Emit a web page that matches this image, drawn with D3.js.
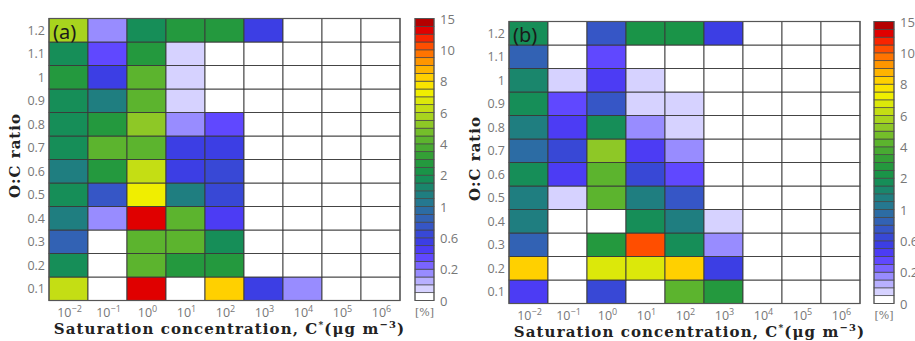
<!DOCTYPE html>
<html>
<head>
<meta charset="utf-8">
<script src="https://cdn.jsdelivr.net/npm/d3@7/dist/d3.min.js"></script>
<style>
  body { margin: 0; background: #fff; }
  svg { display: block; }
</style>
</head>
<body>
<div id="chart"></div>
<script>
// column categories: exponent of C* (10^n)
const xExponents = [-2, -1, 0, 1, 2, 3, 4, 5, 6];
// O:C ratio rows
const ocRows = [0.1, 0.2, 0.3, 0.4, 0.5, 0.6, 0.7, 0.8, 0.9, 1.0, 1.1, 1.2];
const ocLabels = ['0.1', '0.2', '0.3', '0.4', '0.5', '0.6', '0.7', '0.8', '0.9', '1', '1.1', '1.2'];

// values in %, one row per O:C (0.1 first), one column per C*
const panelA = [
  [6.2, 0, 13, 0, 8.0, 0.55, 0.17, 0, 0],
  [1.9, 0, 4.2, 2.7, 2.7, 0, 0, 0, 0],
  [0.85, 0, 4.2, 4.2, 1.9, 0, 0, 0, 0],
  [1.3, 0.17, 13, 4.2, 0.45, 0, 0, 0, 0],
  [1.8, 0.75, 7.2, 1.4, 0.6, 0, 0, 0, 0],
  [1.4, 2.9, 6.2, 0.55, 0.65, 0, 0, 0, 0],
  [1.9, 4.2, 4.4, 0.5, 0.5, 0, 0, 0, 0],
  [1.9, 2.7, 5.2, 0.17, 0.35, 0, 0, 0, 0],
  [1.9, 1.4, 4.4, 0.08, 0, 0, 0, 0, 0],
  [2.6, 0.55, 4.2, 0.08, 0, 0, 0, 0, 0],
  [1.8, 0.35, 2.7, 0.08, 0, 0, 0, 0, 0],
  [5.7, 0.17, 1.9, 2.8, 2.8, 0.55, 0, 0, 0]
];
const panelB = [
  [0.45, 0, 0.6, 0, 4.4, 2.7, 0, 0, 0],
  [8.2, 0, 6.8, 6.8, 8.2, 0.5, 0, 0, 0],
  [0.85, 0, 2.7, 10.5, 1.8, 0.17, 0, 0, 0],
  [1.4, 0, 0, 1.9, 1.4, 0.08, 0, 0, 0],
  [1.4, 0.08, 4.4, 1.4, 0.75, 0, 0, 0, 0],
  [1.9, 0.45, 4.4, 0.65, 0.35, 0, 0, 0, 0],
  [0.95, 0.65, 5.2, 0.45, 0.17, 0, 0, 0, 0],
  [1.4, 0.45, 1.9, 0.17, 0.08, 0, 0, 0, 0],
  [1.9, 0.35, 0.75, 0.08, 0.08, 0, 0, 0, 0],
  [1.6, 0.08, 0.45, 0.08, 0, 0, 0, 0, 0],
  [0.85, 0, 0.35, 0, 0, 0, 0, 0, 0],
  [1.9, 0, 0.75, 2.2, 2.2, 0.55, 0, 0, 0]
];

// colour levels (upper bounds of each band except the last)
const levelBounds = [0.05, 0.1, 0.15, 0.2, 0.3, 0.4, 0.5, 0.6, 0.7, 0.8, 0.9, 1,
  1.25, 1.5, 1.75, 2, 2.5, 3, 3.5, 4, 4.5, 5, 5.5, 6, 6.5, 7, 7.5, 8, 8.5, 9, 9.5, 10,
  11.25, 12.5, 13.75];
const levelColors = ['#ffffff', '#d6d2ff', '#b8b0ff', '#988cff', '#7a64ff', '#6048ff',
  '#4c3cf4', '#3c3ee4', '#3848d6', '#3656c6', '#3262b4', '#2c6ca4', '#257890', '#1f7e80',
  '#1a866c', '#168e58', '#1a9448', '#24993e', '#34a036', '#48aa32', '#5cb42e', '#74be2a',
  '#8ec826', '#a8d41e', '#c4de14', '#dce80a', '#f0ee00', '#fae400', '#ffd000', '#ffb400',
  '#ff9600', '#ff7400', '#ff4e00', '#f82400', '#e00000', '#b40000'];
const cbTickValues = ['0', '0.2', '0.6', '1', '2', '4', '6', '8', '10', '15'];
const cbTickIdx = [0, 4, 8, 12, 16, 20, 24, 28, 32, 36];

const W = 915, H = 341;
const svg = d3.select('#chart').append('svg').attr('width', W).attr('height', H);

const color = d3.scaleThreshold().domain(levelBounds).range(levelColors);

const panels = [
  { data: panelA, tag: '(a)', left: 49, top: 18.5, width: 351, height: 282, cbx: 415, cbw: 19, yLabX: 45, yTitleX: 20 },
  { data: panelB, tag: '(b)', left: 509, top: 21.5, width: 351, height: 282, cbx: 874, cbw: 20, yLabX: 505, yTitleX: 480 }
];

panels.forEach(p => {
  const g = svg.append('g').attr('transform', `translate(${p.left},${p.top})`);

  const x = d3.scaleBand().domain(xExponents).range([0, p.width]);
  const y = d3.scaleBand().domain(ocRows).range([p.height, 0]);

  // cells
  const cells = [];
  p.data.forEach((row, i) => row.forEach((v, j) => cells.push({ r: ocRows[i], c: xExponents[j], v })));
  g.selectAll('rect.cell').data(cells).join('rect')
    .attr('class', 'cell')
    .attr('x', d => x(d.c)).attr('y', d => y(d.r))
    .attr('width', x.bandwidth()).attr('height', y.bandwidth())
    .attr('fill', d => color(d.v))
    .attr('stroke', '#3a3a3a').attr('stroke-width', 0.9);

  // outer frame
  g.append('rect').attr('width', p.width).attr('height', p.height)
    .attr('fill', 'none').attr('stroke', '#555').attr('stroke-width', 1.2);

  // panel tag
  g.append('text').attr('x', 4).attr('y', 20)
    .attr('font-family', 'Noto Sans, sans-serif').attr('font-size', 20)
    .attr('fill', '#1a1a1a').text(p.tag);

  // y tick labels
  svg.append('g').selectAll('text').data(ocRows).join('text')
    .attr('x', p.yLabX).attr('y', d => p.top + y(d) + y.bandwidth() / 2 + 4.5)
    .attr('text-anchor', 'end')
    .attr('font-family', 'Open Sans, sans-serif').attr('font-size', 12.5)
    .attr('fill', '#777')
    .text((d, i) => ocLabels[i]);

  // x tick labels 10^n
  const xl = svg.append('g').selectAll('text').data(xExponents).join('text')
    .attr('x', d => p.left + x(d) + x.bandwidth() / 2 + 1)
    .attr('y', p.top + p.height + 16)
    .attr('text-anchor', 'middle')
    .attr('font-family', 'Open Sans, sans-serif').attr('font-size', 12.5)
    .attr('fill', '#777');
  xl.append('tspan').text('10');
  xl.append('tspan').attr('dy', -5).attr('font-size', 9).text(d => d < 0 ? '\u2212' + (-d) : d);

  // x title
  const xt = svg.append('text')
    .attr('x', p.left + p.width / 2 + 5).attr('y', p.top + p.height + 33)
    .attr('text-anchor', 'middle')
    .attr('font-family', 'DejaVu Serif, serif').attr('font-size', 15)
    .attr('font-weight', 'bold').attr('letter-spacing', 1.1)
    .attr('fill', '#222');
  xt.append('tspan').text('Saturation concentration, C');
  xt.append('tspan').attr('dy', -6).attr('font-size', 9).text('*');
  xt.append('tspan').attr('dy', 6).text('(\u03bcg m');
  xt.append('tspan').attr('dy', -6).attr('font-size', 10).text('\u22123');
  xt.append('tspan').attr('dy', 6).text(')');

  // y title
  svg.append('text')
    .attr('transform', `translate(${p.yTitleX},${p.top + p.height / 2 - 4}) rotate(-90)`)
    .attr('text-anchor', 'middle')
    .attr('font-family', 'DejaVu Serif, serif').attr('font-size', 15)
    .attr('font-weight', 'bold').attr('letter-spacing', 1)
    .attr('fill', '#222')
    .text('O:C ratio');

  // colour bar
  const cb = svg.append('g').attr('transform', `translate(${p.cbx},${p.top})`);
  const cy = d3.scaleLinear().domain([0, levelColors.length]).range([p.height, 0]);
  cb.selectAll('rect').data(levelColors).join('rect')
    .attr('x', 0).attr('y', (d, i) => cy(i + 1))
    .attr('width', p.cbw).attr('height', (d, i) => cy(i) - cy(i + 1))
    .attr('fill', d => d)
    .attr('stroke', '#444').attr('stroke-width', 0.7);
  cb.append('rect').attr('width', p.cbw).attr('height', p.height)
    .attr('fill', 'none').attr('stroke', '#555').attr('stroke-width', 1);
  cb.selectAll('text.cbt').data(cbTickIdx).join('text')
    .attr('class', 'cbt')
    .attr('x', p.cbw + 6).attr('y', d => cy(d) + 5)
    .attr('font-family', 'Open Sans, sans-serif').attr('font-size', 13)
    .attr('fill', '#777')
    .text((d, i) => cbTickValues[i]);
  cb.append('text').attr('x', p.cbw / 2).attr('y', p.height + 15)
    .attr('text-anchor', 'middle')
    .attr('font-family', 'DejaVu Serif, serif').attr('font-size', 11)
    .attr('fill', '#777').text('[%]');
});
</script>
</body>
</html>
